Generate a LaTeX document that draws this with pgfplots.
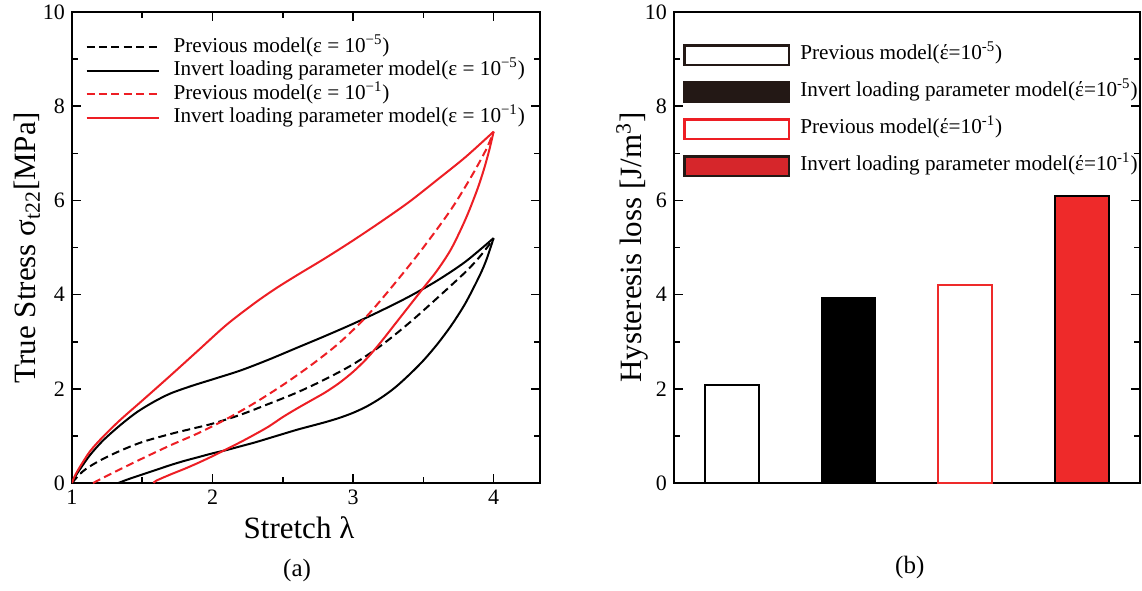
\documentclass[border=0pt]{standalone}
\usepackage{fontspec}
\setmainfont{Liberation Serif}
\usepackage{pgfplots}
\pgfplotsset{compat=1.18}

\definecolor{lred}{RGB}{237,30,36}
\definecolor{barred}{RGB}{238,42,42}
\definecolor{legred}{RGB}{214,38,43}
\definecolor{legdark}{RGB}{35,24,21}

\pgfplotsset{
  panel/.style={
    scale only axis, height=235.5pt,
    axis line style={line width=1pt},
    every tick/.style={line width=0.8pt, black},
    major tick length=4.5pt, minor tick length=3pt,
    tick align=inside,
    tick label style={font=\fontsize{11}{11}\selectfont},
    label style={font=\fontsize{15.5}{16}\selectfont},
    /pgf/number format/assume math mode=true,
    ymin=0, ymax=10,
    ytick={0,2,...,10}, minor ytick={1,3,5,7,9},
    clip mode=individual,
  },
  dashedline/.style={line width=1pt, dash pattern=on 4pt off 2.2pt},
}

\begin{document}
\begin{tikzpicture}
\path[use as bounding box] (-36pt,-53.5pt) rectangle (535pt,241.5pt);

% (a) stress-stretch loops
\begin{axis}[panel, name=left, at={(0pt,0pt)}, anchor=south west,
  width=234pt,
  xmin=1, xmax=4.33,
  xtick={1,2,3,4}, minor xtick={1.5,2.5,3.5},
  xlabel={Stretch λ},
  ylabel={True Stress σ\textsubscript{t22}[MPa]},
  xlabel style={at={(axis description cs:0.485,-0.0955)}, anchor=center},
  ylabel style={at={(axis description cs:-0.096,0.5)}, anchor=center},
  legend style={at={(axis description cs:0.028,0.951)}, anchor=north west,
    draw=none, fill=none, inner sep=0pt, row sep=0pt, column sep=7pt,
    font=\fontsize{10.6}{12}\selectfont,
    nodes={inner sep=0pt, minimum height=11.75pt, text height=7.5pt, text depth=2.5pt}},
  legend cell align=left,
  legend image code/.code={\draw[#1] (0pt,0pt) -- (36pt,0pt);},
]
% previous model, strain rate 1e-5
\addplot[black, dashedline, smooth] coordinates {
(1.0,0) (1.05,0.17) (1.1,0.3) (1.2,0.48) (1.34,0.68) (1.5,0.87) (1.7,1.04)
(1.85,1.15) (2.0,1.26) (2.2,1.45) (2.4,1.68) (2.6,1.92) (2.8,2.2) (3.0,2.52)
(3.2,2.92) (3.4,3.4) (3.6,3.93) (3.8,4.48) (3.9,4.8) (4.0,5.18)};
\addlegendentry{Previous model(ε = 10\textsuperscript{−5})}
% invert loading parameter model, strain rate 1e-5 : loading
\addplot[black, line width=1pt, smooth] coordinates {
(1.0,0) (1.03,0.17) (1.07,0.35) (1.13,0.6) (1.22,0.9) (1.34,1.22) (1.46,1.5)
(1.58,1.72) (1.7,1.9) (1.85,2.06) (2.0,2.2) (2.2,2.39) (2.4,2.62) (2.6,2.87)
(2.8,3.12) (3.0,3.38) (3.2,3.66) (3.4,3.96) (3.6,4.3) (3.8,4.7) (4.0,5.2)};
\addlegendentry{Invert loading parameter model(ε = 10\textsuperscript{−5})}
% previous model, strain rate 1e-1
\addplot[lred, dashedline, smooth] coordinates {
(1.15,0) (1.3,0.23) (1.5,0.52) (1.7,0.8) (1.9,1.06) (2.1,1.36) (2.3,1.7)
(2.5,2.08) (2.7,2.5) (2.9,2.97) (3.1,3.55) (3.3,4.25) (3.5,5.0) (3.7,5.82)
(3.85,6.55) (3.95,7.1) (4.0,7.46)};
\addlegendentry{Previous model(ε = 10\textsuperscript{−1})}
% invert loading parameter model, strain rate 1e-1 : loading
\addplot[lred, line width=1pt, smooth] coordinates {
(1.0,0) (1.02,0.15) (1.06,0.36) (1.13,0.68) (1.22,0.98) (1.34,1.33)
(1.5,1.75) (1.7,2.28) (1.9,2.82) (2.1,3.36) (2.3,3.82) (2.45,4.13)
(2.6,4.41) (2.8,4.77) (3.0,5.15) (3.2,5.55) (3.4,5.97) (3.6,6.44)
(3.8,6.92) (4.0,7.46)};
\addlegendentry{Invert loading parameter model(ε = 10\textsuperscript{−1})}
% unloading branches
\addplot[black, line width=1pt, smooth, forget plot] coordinates {
(4.0,5.2) (3.95,4.75) (3.9,4.4) (3.8,3.82) (3.7,3.35) (3.6,2.95) (3.5,2.6)
(3.4,2.3) (3.3,2.03) (3.2,1.81) (3.1,1.63) (3.0,1.49) (2.9,1.38) (2.8,1.29)
(2.7,1.21) (2.6,1.13) (2.5,1.04) (2.4,0.95) (2.3,0.86) (2.2,0.78) (2.1,0.7)
(2.0,0.63) (1.9,0.55) (1.8,0.47) (1.7,0.38) (1.6,0.28) (1.5,0.18) (1.4,0.08)
(1.33,0)};
\addplot[lred, line width=1pt, smooth, forget plot] coordinates {
(4.0,7.46) (3.97,7.08) (3.93,6.65) (3.88,6.2) (3.8,5.6) (3.7,4.98) (3.6,4.52)
(3.5,4.14) (3.4,3.76) (3.3,3.38) (3.2,3.0) (3.1,2.65) (3.0,2.36) (2.9,2.12)
(2.8,1.92) (2.7,1.75) (2.6,1.58) (2.5,1.4) (2.4,1.2) (2.3,1.03) (2.2,0.87)
(2.1,0.72) (2.0,0.57) (1.9,0.43) (1.8,0.3) (1.7,0.18) (1.6,0.05) (1.58,0)};
\node[font=\fontsize{12.5}{13}\selectfont] at (rel axis cs:0.481,-0.185) {(a)};
\end{axis}

% (b) hysteresis loss
\begin{axis}[panel, name=right, at={(301pt,0pt)}, anchor=south west,
  width=233pt,
  xmin=0, xmax=4, xtick=\empty,
  ylabel={Hysteresis loss [J/m\textsuperscript{3}]},
  ylabel style={at={(axis description cs:-0.09,0.5)}, anchor=center},
  legend style={at={(axis description cs:0.019,0.948)}, anchor=north west,
    draw=none, fill=none, inner sep=0pt, row sep=0pt, column sep=5pt,
    font=\fontsize{10.6}{12}\selectfont,
    nodes={inner sep=0pt, minimum height=18.5pt, text height=7.5pt, text depth=3.5pt}},
  legend cell align=left,
]
\addplot[ybar, bar width=27pt, bar shift=0pt, draw=black, line width=1pt, fill=white, forget plot]
  coordinates {(0.5,2.08)};
\addplot[ybar, bar width=27pt, bar shift=0pt, draw=black, line width=0.6pt, fill=black, forget plot]
  coordinates {(1.5,3.93)};
\addplot[ybar, bar width=27pt, bar shift=0pt, draw=barred, line width=1pt, fill=white, forget plot]
  coordinates {(2.5,4.21)};
\addplot[ybar, bar width=27pt, bar shift=0pt, draw=black, line width=1pt, fill=barred, forget plot]
  coordinates {(3.5,6.10)};

\addlegendimage{legend image code/.code={\draw[legdark, line width=1.2pt, fill=white] (0.6pt,-4.9pt) rectangle (52.9pt,4.9pt);}}
\addlegendentry{Previous model(έ=10\textsuperscript{-5})}
\addlegendimage{legend image code/.code={\draw[legdark, line width=1.2pt, fill=legdark] (0.6pt,-4.9pt) rectangle (52.9pt,4.9pt);}}
\addlegendentry{Invert loading parameter model(έ=10\textsuperscript{-5})}
\addlegendimage{legend image code/.code={\draw[lred, line width=1.2pt, fill=white] (0.6pt,-4.9pt) rectangle (52.9pt,4.9pt);}}
\addlegendentry{Previous model(έ=10\textsuperscript{-1})}
\addlegendimage{legend image code/.code={\draw[legdark, line width=1.2pt, fill=legred] (0.6pt,-4.9pt) rectangle (52.9pt,4.9pt);}}
\addlegendentry{Invert loading parameter model(έ=10\textsuperscript{-1})}
\node[font=\fontsize{12.5}{13}\selectfont] at (rel axis cs:0.506,-0.18) {(b)};
\end{axis}
\end{tikzpicture}
\end{document}
